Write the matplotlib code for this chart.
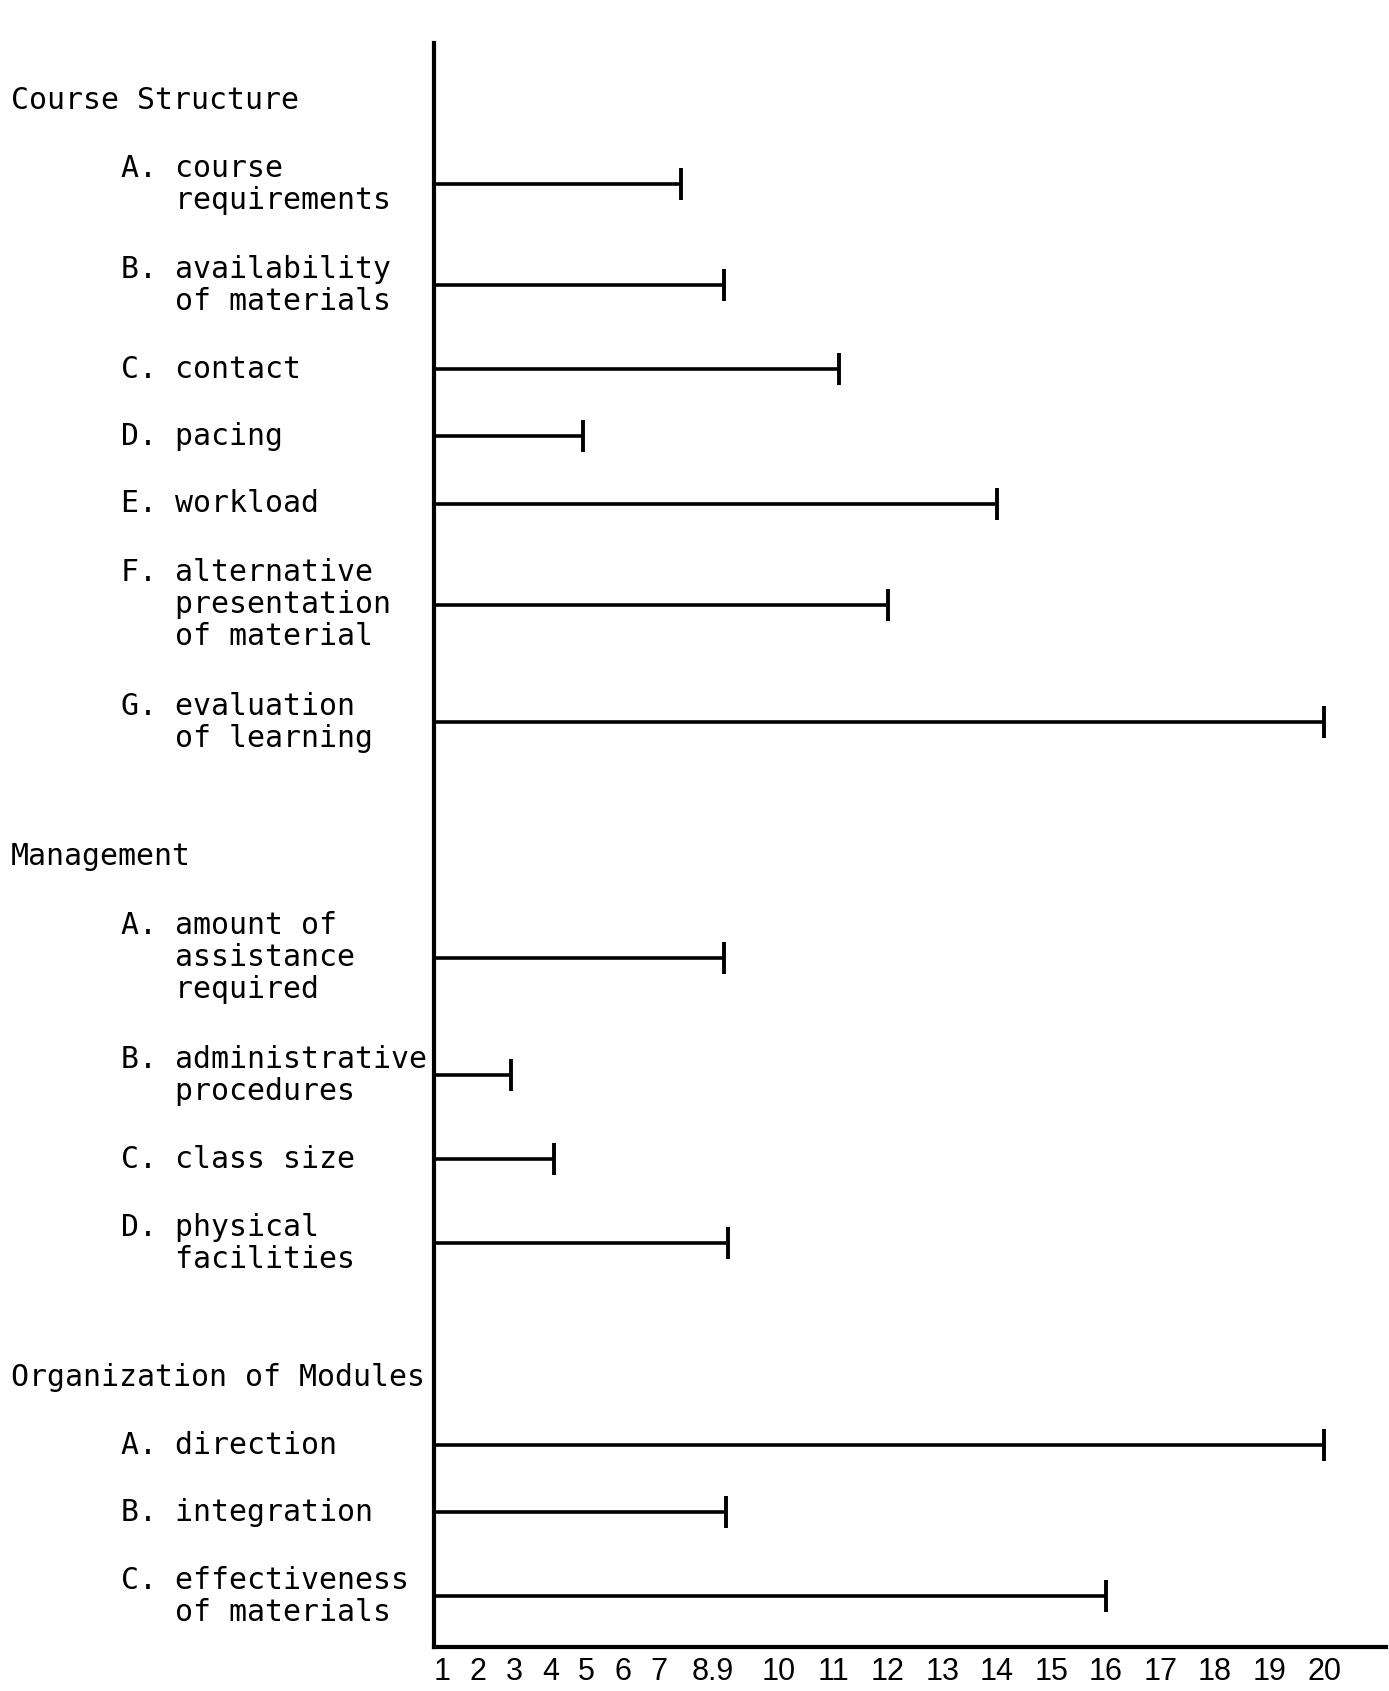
import matplotlib
matplotlib.use('Agg')
import matplotlib.pyplot as plt
import matplotlib.transforms as mtransforms
import numpy as np

# Group headers and items (typewriter labels, letter + indented text)
group_names = ['Course Structure', 'Management', 'Organization of Modules']

course_items = ['A. course\n   requirements',
                'B. availability\n   of materials',
                'C. contact',
                'D. pacing',
                'E. workload',
                'F. alternative\n   presentation\n   of material',
                'G. evaluation\n   of learning']
course_values = [7.6, 8.8, 11.1, 4.9, 14, 12, 20]

management_items = ['A. amount of\n   assistance\n   required',
                    'B. administrative\n   procedures',
                    'C. class size',
                    'D. physical\n   facilities']
management_values = [8.8, 2.9, 4.1, 8.9]

module_items = ['A. direction',
                'B. integration',
                'C. effectiveness\n   of materials']
module_values = [20, 8.85, 16]

tick_values = [1, 2, 3, 4, 5, 6, 7, 8.5, 10, 11, 12, 13, 14, 15, 16, 17, 18, 19, 20]
tick_labels = ['1', '2', '3', '4', '5', '6', '7', '8.9', '10', '11', '12', '13',
               '14', '15', '16', '17', '18', '19', '20']

# the hand drawn axis is not uniform: 1-9 squeezed, 10-20 wider
scale_v = [0, 1, 9, 10, 20, 22]
scale_p = [-33.5, 0, 268, 312, 818, 919.2]


def forward(v):
    return np.interp(v, scale_v, scale_p)


def inverse(p):
    return np.interp(p, scale_p, scale_v)


# layout in text lines (one line of typing = one unit)
groups = [(course_items, course_values),
          (management_items, management_values),
          (module_items, module_values)]
header_y = []
item_y = []
item_text = []
item_vals = []
cursor = 0.0
for items, vals in groups:
    header_y.append(cursor)
    cursor += 2
    for txt, v in zip(items, vals):
        n = txt.count('\n') + 1
        item_y.append(cursor + (n - 1) / 2)
        item_text.append(txt)
        item_vals.append(v)
        cursor += n + 1
    cursor += 1.5

fig = plt.figure(figsize=(13.89, 16.91), dpi=100)
ax = fig.add_axes([0.3121, 0.0261, 0.6856, 0.9484])

ax.set_xscale('function', functions=(forward, inverse))
x_left, x_right = 0.76, 21.13
ax.set_xlim(x_left, x_right)
ax.set_ylim(46.0, -1.7)

ax.hlines(item_y, x_left, item_vals, color='black', lw=2.6)
ax.plot(item_vals, item_y, ls='none', marker='|', ms=23, mew=2.8, color='black')

for side in ['top', 'right']:
    ax.spines[side].set_visible(False)
for side in ['left', 'bottom']:
    ax.spines[side].set_linewidth(3)

ax.set_yticks([])
ax.set_xticks(tick_values, tick_labels, fontsize=22, family='Liberation Sans')
ax.tick_params(axis='x', length=0, pad=7)

trans = mtransforms.blended_transform_factory(fig.transFigure, ax.transData)
mono = dict(family='DejaVu Sans Mono', fontsize=21.5, linespacing=1.13,
            va='center', ha='left', transform=trans, clip_on=False)
for name, y in zip(group_names, header_y):
    ax.text(0.008, y, name, **mono)
for txt, y in zip(item_text, item_y):
    ax.text(0.087, y, txt, **mono)

fig.savefig('out.png', dpi=100)
